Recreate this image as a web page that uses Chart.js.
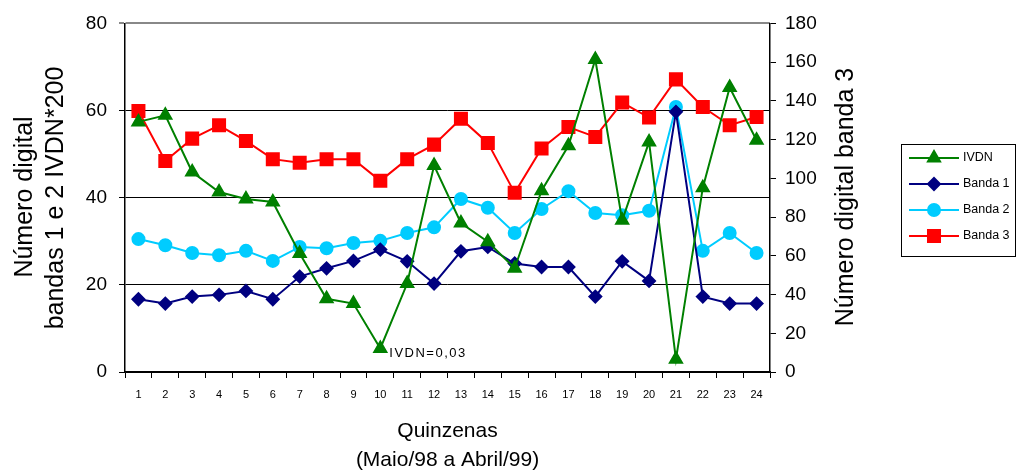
<!DOCTYPE html>
<html>
<head>
<meta charset="utf-8">
<script src="https://cdn.jsdelivr.net/npm/chart.js@4"></script>
<style>
  html, body { margin: 0; padding: 0; background: #fff; }
  #wrap { width: 1019px; height: 472px; }
</style>
</head>
<body>
<div id="wrap"><canvas id="chart"></canvas></div>
<script>
const quinzenas = ['1','2','3','4','5','6','7','8','9','10','11','12','13','14','15','16','17','18','19','20','21','22','23','24'];
const ivdn   = [57.4, 58.9, 45.9, 41.3, 39.7, 39.0, 27.2, 16.8, 15.7, 5.4, 20.3, 47.4, 34.2, 29.9, 23.8, 41.6, 51.9, 71.7, 34.8, 52.8, 2.9, 42.3, 65.3, 53.2];
const banda1 = [16.7, 15.7, 17.3, 17.7, 18.6, 16.7, 21.9, 23.8, 25.5, 28.1, 25.4, 20.3, 27.7, 28.7, 24.9, 24.1, 24.1, 17.3, 25.4, 20.9, 59.7, 17.3, 15.7, 15.7];
const banda2 = [30.5, 29.1, 27.3, 26.8, 27.8, 25.5, 28.7, 28.4, 29.6, 30.1, 31.9, 33.2, 39.7, 37.7, 31.9, 37.4, 41.5, 36.5, 36.0, 37.0, 60.8, 27.8, 31.9, 27.3];
const banda3 = [134.8, 109.0, 120.5, 127.4, 119.3, 109.9, 108.0, 109.9, 109.9, 98.7, 109.9, 117.4, 130.8, 118.3, 92.5, 115.4, 126.5, 121.4, 139.1, 131.4, 151.1, 136.8, 127.4, 131.7];

const FONT = '"Liberation Sans", Arial, sans-serif';

// rotated text, x is the baseline
function vtext(ctx, txt, x, y) {
  ctx.save();
  ctx.translate(x, y);
  ctx.rotate(-Math.PI / 2);
  ctx.textBaseline = 'alphabetic';
  ctx.fillText(txt, 0, 0);
  ctx.restore();
}

// titles, legend box and the IVDN note
const decor = {
  id: 'decor',
  afterDraw(chart) {
    const ctx = chart.ctx;
    const a = chart.chartArea;
    ctx.save();
    ctx.fillStyle = '#000';
    ctx.textAlign = 'center';
    ctx.textBaseline = 'middle';

    // axis titles
    ctx.font = '25px ' + FONT;
    vtext(ctx, 'Número digital', 32, 197);
    vtext(ctx, 'bandas 1 e 2 IVDN*200', 63, 198);
    vtext(ctx, 'Número digital banda 3', 853, 197);

    const cx = (a.left + a.right) / 2;
    ctx.font = '21px ' + FONT;
    ctx.fillText('Quinzenas', cx, 431);
    ctx.fillText('(Maio/98 a Abril/99)', cx, 460);

    // note under IVDN point 10
    const x = chart.scales.x.getPixelForValue(9);
    const y = chart.scales.y.getPixelForValue(ivdn[9]);
    ctx.font = '13px ' + FONT;
    ctx.letterSpacing = '1.5px';
    ctx.textAlign = 'left';
    ctx.fillText('IVDN=0,03', x + 9, y + 5);
    ctx.letterSpacing = '0px';

    // legend
    ctx.strokeStyle = '#000';
    ctx.lineWidth = 1;
    ctx.strokeRect(901.5, 144.5, 114, 112);
    ctx.font = '12.5px ' + FONT;
    chart.data.datasets.forEach((ds, i) => {
      const ly = 158 + i * 26;
      ctx.strokeStyle = ds.borderColor;
      ctx.lineWidth = 2;
      ctx.beginPath();
      ctx.moveTo(909, ly);
      ctx.lineTo(959, ly);
      ctx.stroke();
      ctx.fillStyle = ds.pointBackgroundColor;
      ctx.strokeStyle = ds.pointBackgroundColor;
      Chart.helpers.drawPoint(ctx, {
        pointStyle: ds.pointStyle, radius: ds.pointRadius, borderWidth: 1
      }, 934, ly);
      ctx.fillStyle = '#000';
      ctx.fillText(ds.label, 963, ly);
    });
    ctx.restore();
  }
};

function serie(label, data, color, style, radius, axis) {
  return {
    label: label,
    data: data,
    yAxisID: axis,
    borderColor: color,
    backgroundColor: color,
    pointBackgroundColor: color,
    pointBorderColor: color,
    borderWidth: 2,
    pointStyle: style,
    pointRadius: radius,
    pointHoverRadius: radius,
    tension: 0
  };
}

new Chart(document.getElementById('chart').getContext('2d'), {
  type: 'line',
  data: {
    labels: quinzenas,
    datasets: [
      serie('IVDN', ivdn, '#008000', 'triangle', 7, 'y'),
      serie('Banda 1', banda1, '#000080', 'rectRot', 6, 'y'),
      serie('Banda 2', banda2, '#00CCFF', 'circle', 6, 'y'),
      serie('Banda 3', banda3, '#FF0000', 'rect', 8.5, 'y1')
    ]
  },
  options: {
    responsive: true,
    maintainAspectRatio: false,
    animation: false,
    layout: { padding: { top: 23, left: 0, right: 0, bottom: 0 } },
    plugins: { legend: { display: false }, tooltip: { enabled: false } },
    scales: {
      x: {
        offset: true,
        grid: { offset: true, drawOnChartArea: false, color: '#000', tickLength: 6 },
        border: { color: '#000', width: 1.5 },
        ticks: { color: '#000', font: { family: FONT, size: 11 }, padding: 10, maxRotation: 0, autoSkip: false },
        afterFit(s) { s.height = 100; }
      },
      y: {
        position: 'left',
        min: 0, max: 80,
        ticks: { stepSize: 20, color: '#000', font: { family: FONT, size: 19 }, padding: 12 },
        grid: {
          color: c => (c.tick.value === 80 ? '#888' : '#000'),
          lineWidth: c => (c.tick.value === 80 ? 2 : 1),
          tickLength: 6,
          drawTicks: true
        },
        border: { color: '#000', width: 1.5 },
        afterFit(s) { s.width = 125; }
      },
      y1: {
        position: 'right',
        min: 0, max: 180,
        ticks: { stepSize: 20, color: '#000', font: { family: FONT, size: 19 }, padding: 9 },
        grid: { drawOnChartArea: false, color: '#000', tickLength: 6 },
        border: { color: '#000', width: 1.5 },
        afterFit(s) { s.width = 249; }
      }
    }
  },
  plugins: [decor]
});
</script>
</body>
</html>
